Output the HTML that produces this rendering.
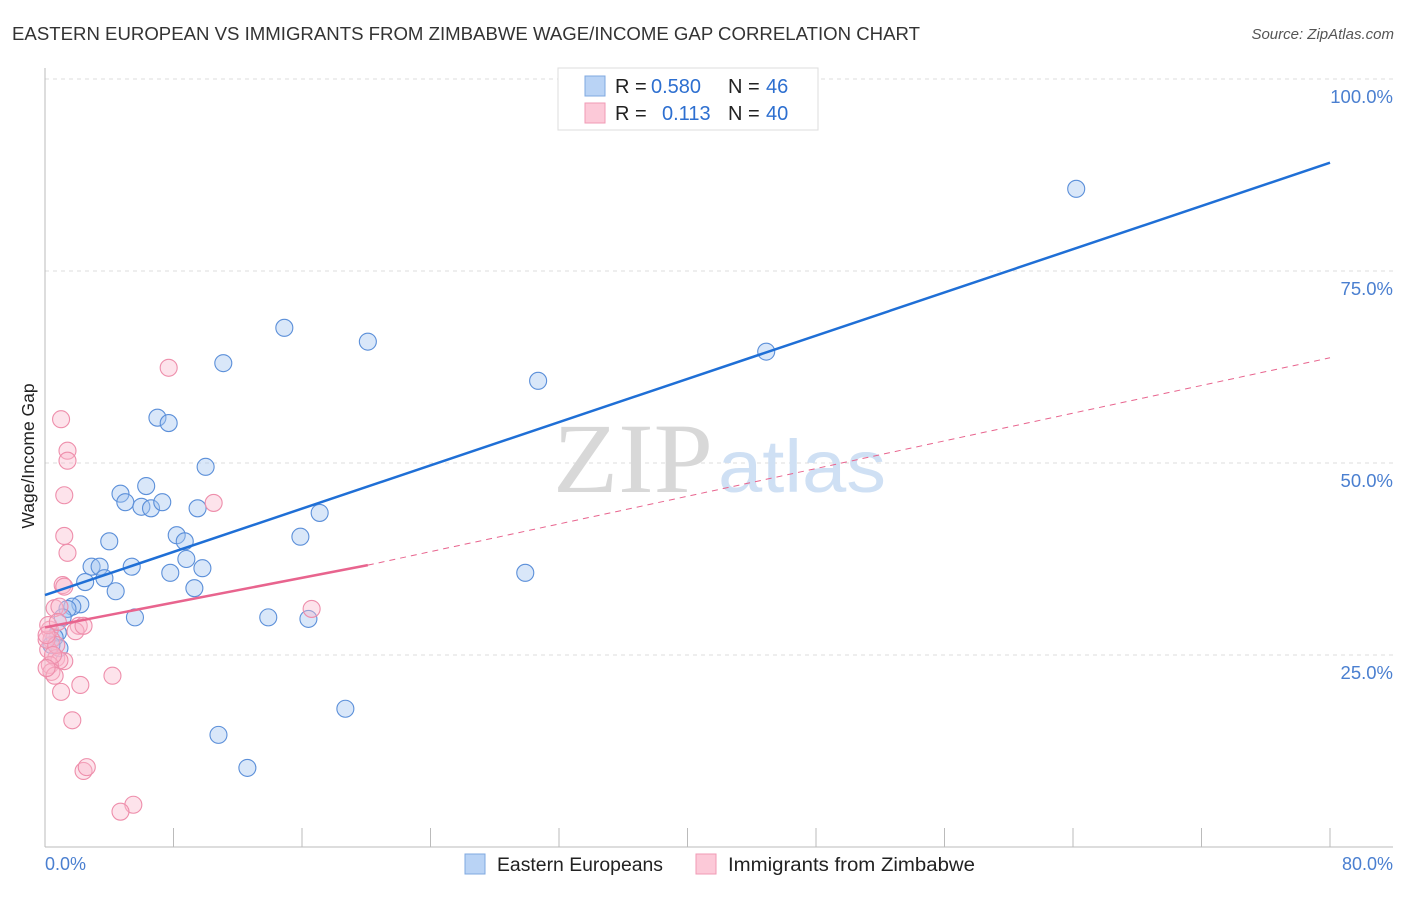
<!DOCTYPE html>
<html><head><meta charset="utf-8"><style>
body{margin:0;background:#fff;font-family:"Liberation Sans",sans-serif;}
</style></head><body>
<svg width="1406" height="892" viewBox="0 0 1406 892" xmlns="http://www.w3.org/2000/svg">
<text x="12" y="40" font-size="18" fill="#333" textLength="908" lengthAdjust="spacingAndGlyphs">EASTERN EUROPEAN VS IMMIGRANTS FROM ZIMBABWE WAGE/INCOME GAP CORRELATION CHART</text>
<text x="1394" y="39" font-size="15" fill="#555" font-style="italic" text-anchor="end">Source: ZipAtlas.com</text>
<g id="grid"></g>
<g>
<text x="553" y="492" font-family="Liberation Serif,serif" font-size="100" fill="#d8d8d8" textLength="160" lengthAdjust="spacingAndGlyphs">ZIP</text>
<text x="718" y="492" font-size="74" fill="#cfe0f4" textLength="168" lengthAdjust="spacingAndGlyphs">atlas</text>
</g>
<line x1="45" y1="68" x2="45" y2="847" stroke="#bbb"/>
<line x1="45" y1="847" x2="1393" y2="847" stroke="#bbb"/>
<g id="ticks"></g>
<g id="pts"></g>
<g id="lines"></g>
<text x="34" y="456" font-size="17.5" fill="#222" text-anchor="middle" transform="rotate(-90 34 456)">Wage/Income Gap</text>
<text x="45" y="870" font-size="18" fill="#4a7fd0">0.0%</text>
<text x="1393" y="870" font-size="18" fill="#4a7fd0" text-anchor="end">80.0%</text>
<g>
<rect x="558" y="68" width="260" height="62" fill="#fff" stroke="#ddd"/>
<rect x="585" y="76" width="20" height="20" fill="#b9d3f5" stroke="#7fa8e0"/>
<rect x="585" y="103" width="20" height="20" fill="#fcc9d8" stroke="#f09ab5"/>
<text x="615" y="93" font-size="20" fill="#222">R = <tspan fill="#2d6fd0" x="651">0.580</tspan></text>
<text x="728" y="93" font-size="20" fill="#222">N = <tspan fill="#2d6fd0" x="766">46</tspan></text>
<text x="615" y="120" font-size="20" fill="#222">R = <tspan fill="#2d6fd0" x="662">0.113</tspan></text>
<text x="728" y="120" font-size="20" fill="#222">N = <tspan fill="#2d6fd0" x="766">40</tspan></text>
</g>
<g>
<rect x="465" y="854" width="20" height="20" fill="#b9d3f5" stroke="#7fa8e0"/>
<text x="497" y="871" font-size="19" fill="#222" textLength="166" lengthAdjust="spacingAndGlyphs">Eastern Europeans</text>
<rect x="696" y="854" width="20" height="20" fill="#fcc9d8" stroke="#f09ab5"/>
<text x="728" y="871" font-size="19" fill="#222" textLength="247" lengthAdjust="spacingAndGlyphs">Immigrants from Zimbabwe</text>
</g>
</svg>
<script>
const yTicks=[25,50,75,100];
const yTickLabels=["25.0%","50.0%","75.0%","100.0%"];
const blueX=[64.2,44.9,30.7,20.1,14.9,11.1,7.0,7.7,10.0,4.7,5.0,6.3,6.0,6.6,7.3,9.5,8.2,8.7,4.0,15.9,17.1,8.8,7.8,9.8,2.9,3.4,5.4,2.5,3.7,4.4,9.3,2.2,1.7,1.4,1.1,5.6,13.9,16.4,29.9,18.7,10.8,12.6,0.8,0.6,0.9,0.4];
const blueY=[85.7,64.5,60.7,65.8,67.6,63.0,55.9,55.2,49.5,46.0,44.9,47.0,44.3,44.1,44.9,44.1,40.6,39.8,39.8,40.4,43.5,37.5,35.7,36.3,36.5,36.5,36.5,34.5,35.0,33.3,33.7,31.6,31.3,31.0,29.9,29.9,29.9,29.7,35.7,18.0,14.6,10.3,27.9,27.3,25.9,26.3];
const pinkX=[7.7,1.0,1.4,1.4,1.2,1.2,1.4,10.5,1.1,1.2,0.6,0.9,2.1,1.9,2.4,16.6,0.3,0.4,0.2,0.7,1.2,0.9,0.3,0.4,0.6,4.2,2.2,1.0,1.7,2.4,2.6,5.5,4.7,0.1,0.2,0.7,0.5,0.1,0.8,0.1];
const pinkY=[62.4,55.7,51.6,50.3,45.8,40.5,38.3,44.8,34.1,33.9,31.1,31.3,28.8,28.1,28.8,31.0,28.3,27.0,25.7,24.6,24.2,24.3,23.7,22.8,22.3,22.3,21.1,20.2,16.5,9.9,10.4,5.5,4.6,27.0,28.9,26.3,25.0,23.3,29.3,27.6];
const blueTrend=[[0,32.8],[80,89.1]];
const pinkTrend=[[0,28.6],[20.1,36.7]];
const pinkExt=[[20.1,36.7],[80,63.7]];
const NS="http://www.w3.org/2000/svg";
const sx=v=>45+v*(1285/80);
const sy=v=>847-v*7.68;
function mk(tag,attrs,parent){const e=document.createElementNS(NS,tag);for(const k in attrs)e.setAttribute(k,attrs[k]);parent.appendChild(e);return e;}
const grid=document.getElementById('grid');
yTicks.forEach((t,i)=>{
 const l=mk('line',{x1:45,x2:1393,y1:sy(t),y2:sy(t),stroke:'#ddd','stroke-dasharray':'4,4'},grid);
 
 
 const tx=mk('text',{x:1393,y:sy(t)+24,'font-size':18.5,fill:'#4a7fd0','text-anchor':'end'},grid);
 tx.textContent=yTickLabels[i];
 
 
});
const ticks=document.getElementById('ticks');
for(let i=0;i<=10;i++){
 const t=mk('line',{x1:sx(i*8),x2:sx(i*8),y1:828,y2:847,stroke:'#bbb'},ticks);
 
 
}
const pts=document.getElementById('pts');
blueX.forEach((x,i)=>{
 const c=mk('circle',{cx:sx(x),cy:sy(blueY[i]),r:8.5,fill:'rgba(160,195,240,0.4)',stroke:'#5b8fd9','stroke-width':1.1},pts);
 
 
});
pinkX.forEach((x,i)=>{
 const c=mk('circle',{cx:sx(x),cy:sy(pinkY[i]),r:8.5,fill:'rgba(250,185,205,0.4)',stroke:'#ee8eab','stroke-width':1.1},pts);
 
 
});
const lines=document.getElementById('lines');
const b=mk('line',{x1:sx(blueTrend[0][0]),y1:sy(blueTrend[0][1]),x2:sx(blueTrend[1][0]),y2:sy(blueTrend[1][1]),stroke:'#1f6fd6','stroke-width':2.5},lines);


const pe=mk('line',{x1:sx(pinkExt[0][0]),y1:sy(pinkExt[0][1]),x2:sx(pinkExt[1][0]),y2:sy(pinkExt[1][1]),stroke:'#e8648e','stroke-width':1,'stroke-dasharray':'6,5'},lines);


const p=mk('line',{x1:sx(pinkTrend[0][0]),y1:sy(pinkTrend[0][1]),x2:sx(pinkTrend[1][0]),y2:sy(pinkTrend[1][1]),stroke:'#e8648e','stroke-width':2.5},lines);


</script>
</body></html>
